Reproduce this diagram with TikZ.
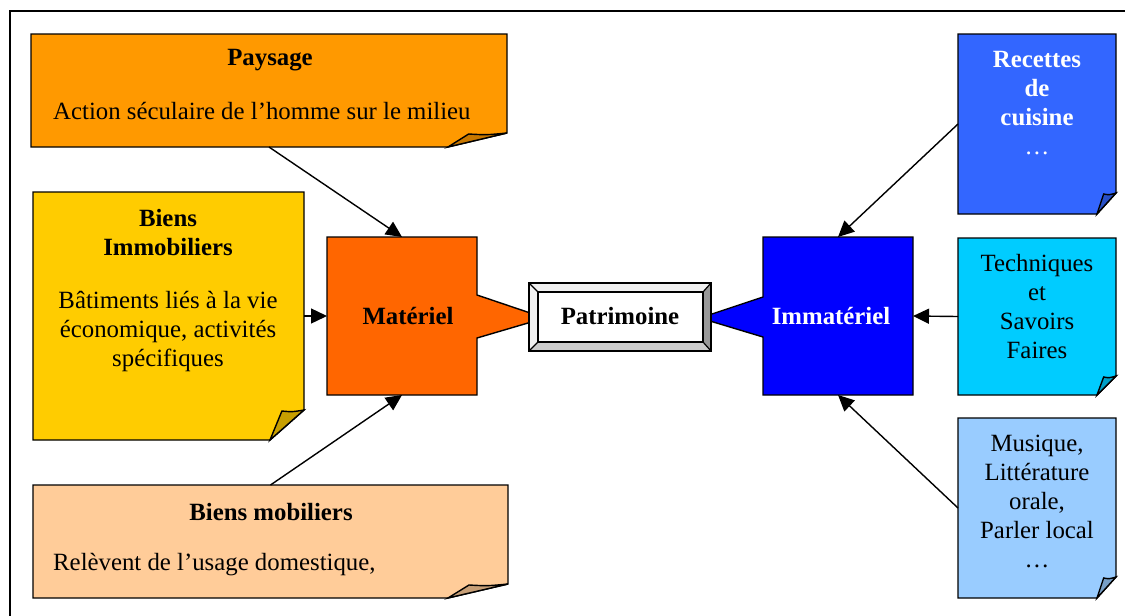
\documentclass[tikz,border=0pt]{standalone}
\usepackage{fontspec}
\setmainfont{Liberation Serif}
\usetikzlibrary{calc,arrows.meta}

\definecolor{cPaysage}{HTML}{FF9900}
\definecolor{cImmo}{HTML}{FFCC00}
\definecolor{cMob}{HTML}{FFCC99}
\definecolor{cMat}{HTML}{FF6600}
\definecolor{cImmat}{HTML}{0000FF}
\definecolor{cRec}{HTML}{3366FF}
\definecolor{cTech}{HTML}{00CCFF}
\definecolor{cMus}{HTML}{99CCFF}

% sheet of paper with a curled lower right corner, drawn round an empty node
% #1 node, #2 fill colour, #3 fold width, #4 fold height
\newcommand\notepaper[4]{%
  \filldraw[fill=#2,outline]
    (#1.north west) -- (#1.north east) -- ($(#1.south east)+(0,-#4)$)
    -- ($(#1.south east)+(-#3,0)$) -- (#1.south west) -- cycle;
  \filldraw[fill=#2!78!black,outline]
    ($(#1.south east)+(-#3,0)$) -- ($(#1.south east)+(-#3+0.35*#3,-#4+1)$)
    .. controls ($(#1.south east)+(-0.35*#3,-#4+2)$) .. ($(#1.south east)+(0,-#4)$) -- cycle;
}

\begin{document}
\begin{tikzpicture}[x=1pt,y=-1pt,
  outline/.style={draw=black,line width=1.4pt,line join=miter},
  frame/.style={draw=none,rectangle,inner sep=0pt,outer sep=0pt},
  txt/.style={align=center,inner sep=0pt,font=\fontsize{24.8}{29}\selectfont},
  btxt/.style={txt,font=\fontsize{24.8}{29}\selectfont\bfseries},
  conn/.style={line width=1.4pt,-{Triangle[length=16pt,width=15pt]}}]
\useasboundingbox (0,0) rectangle (1125,616);

% outer border
\draw[line width=1.6pt] (10,616) -- (10,11) -- (1125,11);

% frames of the sheets
\node[frame,minimum width=476,minimum height=113] (pay) at (269,90.5) {};
\node[frame,minimum width=271,minimum height=248] (immo) at (168.5,316) {};
\node[frame,minimum width=475,minimum height=113] (mob) at (270.5,541.5) {};
\node[frame,minimum width=158,minimum height=180] (rec) at (1037,124) {};
\node[frame,minimum width=158,minimum height=157] (tech) at (1037,316.5) {};
\node[frame,minimum width=158,minimum height=180] (mus) at (1037,508) {};

\notepaper{pay}{cPaysage}{59}{14}
\notepaper{immo}{cImmo}{34}{30}
\notepaper{mob}{cMob}{60}{14}
\notepaper{rec}{cRec}{19}{21}
\notepaper{tech}{cTech}{19}{19}
\notepaper{mus}{cMus}{19}{21}

% central callouts
\node[frame,minimum width=150,minimum height=158] (mat) at (402,316) {};
\node[frame,minimum width=150,minimum height=158] (immat) at (838,316) {};
\filldraw[fill=cMat,outline] (mat.north west) -- (mat.north east) -- (477,295)
  -- (545,318) -- (477,338) -- (mat.south east) -- (mat.south west) -- cycle;
\filldraw[fill=cImmat,outline] (immat.north west) -- (immat.north east)
  -- (immat.south east) -- (immat.south west) -- (763,337) -- (700,318)
  -- (763,297) -- cycle;

% bevelled Patrimoine button
\node[frame,minimum width=182,minimum height=68] (patr) at (620,317) {};
\coordinate (pi1) at (538,292);
\coordinate (pi2) at (703,292);
\coordinate (pi3) at (703,342);
\coordinate (pi4) at (538,342);
\fill[white] (patr.north west) rectangle (patr.south east);
\fill[gray!12] (patr.north west) -- (patr.north east) -- (pi2) -- (pi1) -- cycle;
\fill[gray!10] (patr.north west) -- (pi1) -- (pi4) -- (patr.south west) -- cycle;
\fill[gray!40] (patr.south west) -- (pi4) -- (pi3) -- (patr.south east) -- cycle;
\fill[gray!80] (patr.north east) -- (patr.south east) -- (pi3) -- (pi2) -- cycle;
\draw[line width=1.2pt] (patr.north west) -- (pi1) (patr.north east) -- (pi2)
  (patr.south east) -- (pi3) (patr.south west) -- (pi4);
\draw[line width=1.2pt] (pi1) -- (pi2) -- (pi3) -- (pi4) -- cycle;
\draw[outline] (patr.north west) rectangle (patr.south east);

% texts
\node[btxt] (tPay) at (270,60) {Paysage};
\node[txt,anchor=west] (tPay2) at (53,111) {Action séculaire de l’homme sur le milieu};
\node[btxt] (tImmo) at (168,232.5) {Biens\\Immobiliers};
\node[txt] (tImmo2) at (168,332) {Bâtiments liés à la vie\\économique, activités\\spécifiques};
\node[btxt] (tMob) at (271,512) {Biens mobiliers};
\node[txt,anchor=west] (tMob2) at (53,565) {Relèvent de l’usage domestique,};
\node[btxt,text=white] (tRec) at (1037,103) {Recettes\\de\\cuisine\\{\mdseries …}};
\node[txt] (tTech) at (1037,307) {Techniques\\et\\Savoirs\\Faires};
\node[txt] (tMus) at (1037,501) {Musique,\\Littérature\\orale,\\Parler local\\…};
\node[btxt] (tMat) at (408,316) {Matériel};
\node[btxt] (tPatr) at (620,316) {Patrimoine};
\node[btxt,text=white] (tImmat) at (831,316) {Immatériel};

% connectors
\draw[conn] (pay.south) -- (mat.north);
\draw[conn] (immo.east) -- (mat.west);
\draw[conn] (mob.north) -- (mat.south);
\draw[conn] (rec.west) -- (immat.north);
\draw[conn] (tech.west) -- (immat.east);
\draw[conn] (mus.west) -- (immat.south);
\end{tikzpicture}
\end{document}
